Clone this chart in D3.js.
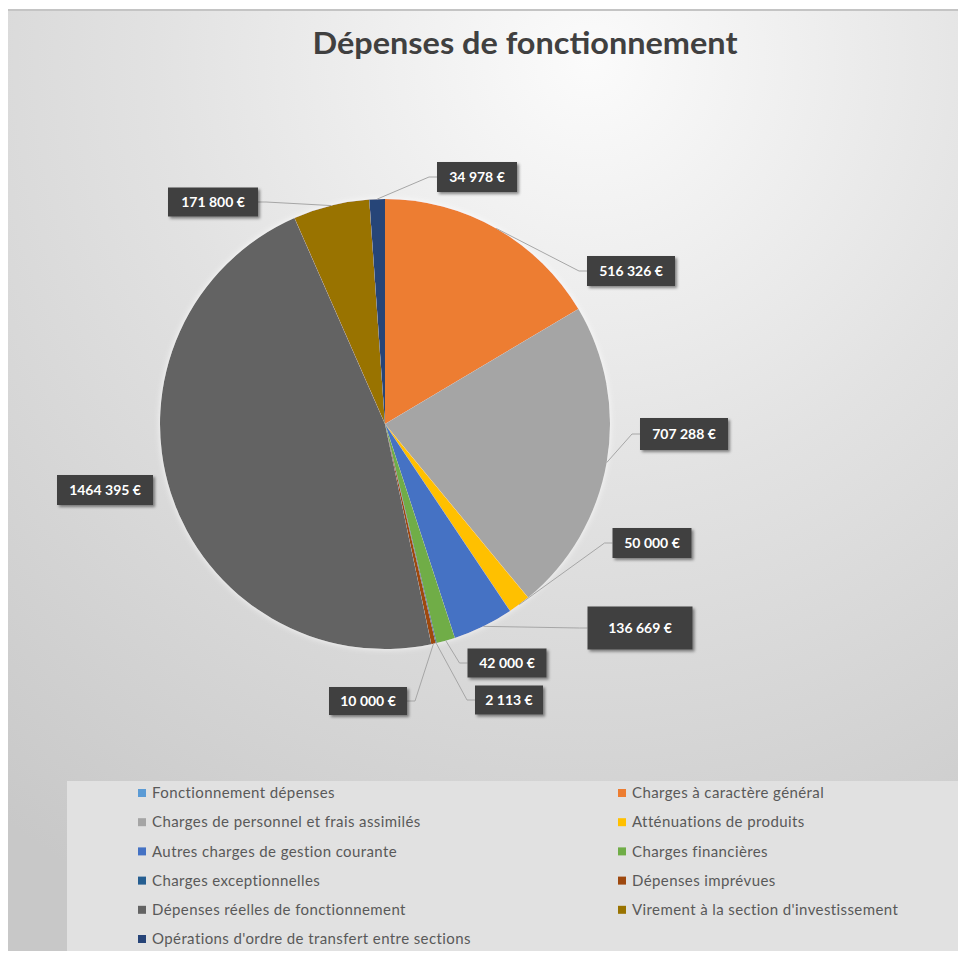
<!DOCTYPE html>
<html>
<head>
<meta charset="utf-8">
<script src="https://cdn.jsdelivr.net/npm/d3@7"></script>
<style>
  html, body { margin: 0; padding: 0; background: #fff; }
  svg { display: block; }
  text { font-family: Lato, "Open Sans", sans-serif; }
</style>
</head>
<body>
<div id="chart"></div>
<script>
const title = "Dépenses de fonctionnement";

const categories = [
  "Fonctionnement dépenses",
  "Charges à caractère général",
  "Charges de personnel et frais assimilés",
  "Atténuations de produits",
  "Autres charges de gestion courante",
  "Charges financières",
  "Charges exceptionnelles",
  "Dépenses imprévues",
  "Dépenses réelles de fonctionnement",
  "Virement à la section d'investissement",
  "Opérations d'ordre de transfert entre sections"
];

const values = [0, 516326, 707288, 50000, 136669, 42000, 2113, 10000, 1464395, 171800, 34978];

const valueLabels = [
  "", "516 326 €", "707 288 €", "50 000 €", "136 669 €", "42 000 €",
  "2 113 €", "10 000 €", "1464 395 €", "171 800 €", "34 978 €"
];

const colors = [
  "#5B9BD5", "#ED7D31", "#A5A5A5", "#FFC000", "#4472C4", "#70AD47",
  "#255E91", "#9E480E", "#636363", "#997300", "#264478"
];

// where Excel put each data label box: offset of its centre from the pie centre, and box size
const labelLayout = [
  null,
  { dx: 246, dy: -153, w: 88, h: 30 },
  { dx: 299, dy: 10, w: 88, h: 32 },
  { dx: 267, dy: 119, w: 79, h: 30 },
  { dx: 255, dy: 204, w: 105, h: 43 },
  { dx: 122, dy: 239, w: 79, h: 29 },
  { dx: 124, dy: 276, w: 68, h: 29 },
  { dx: -17, dy: 277, w: 78, h: 28 },
  { dx: -280, dy: 66, w: 96, h: 30 },
  { dx: -172, dy: -222, w: 90, h: 29 },
  { dx: 92, dy: -247, w: 80, h: 30 }
];

const width = 958;
const height = 957;
const cx = 385, cy = 424, radius = 225;

const svg = d3.select("#chart")
  .append("svg")
  .attr("width", width)
  .attr("height", height);

const defs = svg.append("defs");

const bg = defs.append("radialGradient")
  .attr("id", "bg")
  .attr("gradientUnits", "userSpaceOnUse")
  .attr("cx", 590).attr("cy", 60).attr("r", 960);
bg.append("stop").attr("offset", 0).attr("stop-color", "#fbfbfb");
bg.append("stop").attr("offset", 0.45).attr("stop-color", "#e2e2e2");
bg.append("stop").attr("offset", 1).attr("stop-color", "#c8c8c8");

const shadow = defs.append("filter")
  .attr("id", "shadow")
  .attr("x", "-20%").attr("y", "-30%")
  .attr("width", "150%").attr("height", "170%");
shadow.append("feDropShadow")
  .attr("dx", 2).attr("dy", 2)
  .attr("stdDeviation", 1.5)
  .attr("flood-color", "#000")
  .attr("flood-opacity", 0.45);

const glow = defs.append("filter")
  .attr("id", "glow")
  .attr("x", "-10%").attr("y", "-10%")
  .attr("width", "120%").attr("height", "120%");
glow.append("feDropShadow")
  .attr("dx", 0).attr("dy", 0)
  .attr("stdDeviation", 3)
  .attr("flood-color", "#ffffff")
  .attr("flood-opacity", 0.8);

// chart area
svg.append("rect")
  .attr("x", 8).attr("y", 9)
  .attr("width", width - 8).attr("height", 942)
  .attr("fill", "url(#bg)");
svg.append("line")
  .attr("x1", 8).attr("x2", width)
  .attr("y1", 10).attr("y2", 10)
  .attr("stroke", "#c4c4c4")
  .attr("stroke-width", 2);

svg.append("text")
  .attr("x", 525)
  .attr("y", 54)
  .attr("text-anchor", "middle")
  .attr("font-size", 31)
  .attr("font-weight", "bold")
  .attr("fill", "#404040")
  .attr("textLength", 425)
  .attr("lengthAdjust", "spacingAndGlyphs")
  .text(title);

// pie
const data = categories.map((name, i) => ({
  name,
  value: values[i],
  color: colors[i],
  label: valueLabels[i],
  layout: labelLayout[i]
}));

const pie = d3.pie()
  .value(d => d.value)
  .sort(null)
  .startAngle(0)
  .endAngle(2 * Math.PI);

const arc = d3.arc().innerRadius(0).outerRadius(radius);

const arcs = pie(data);

const g = svg.append("g").attr("transform", `translate(${cx},${cy})`);

g.append("g")
  .attr("filter", "url(#glow)")
  .selectAll("path")
  .data(arcs.filter(d => d.data.value > 0))
  .join("path")
  .attr("d", arc)
  .attr("fill", d => d.data.color);

// leader lines + labels
const labelled = arcs.filter(d => d.data.value > 0 && d.data.layout);

const leaders = labelled.map(d => {
  const a = (d.startAngle + d.endAngle) / 2;
  const sx = radius * Math.sin(a);
  const sy = -radius * Math.cos(a);
  const L = d.data.layout;
  const right = L.dx > sx;
  const ex = right ? L.dx - L.w / 2 : L.dx + L.w / 2;
  const ey = L.dy;
  const kx = right ? ex - 8 : ex + 8;
  const dist = Math.hypot(kx - sx, ey - sy);
  return { points: [[sx, sy], [kx, ey], [ex, ey]], show: dist > 20 };
});

g.append("g")
  .selectAll("polyline")
  .data(leaders.filter(l => l.show))
  .join("polyline")
  .attr("points", l => l.points.map(p => p.join(",")).join(" "))
  .attr("fill", "none")
  .attr("stroke", "#a6a6a6")
  .attr("stroke-width", 1);

const label = g.append("g")
  .selectAll("g")
  .data(labelled)
  .join("g")
  .attr("transform", d => `translate(${d.data.layout.dx},${d.data.layout.dy})`);

label.append("rect")
  .attr("x", d => -d.data.layout.w / 2)
  .attr("y", d => -d.data.layout.h / 2)
  .attr("width", d => d.data.layout.w)
  .attr("height", d => d.data.layout.h)
  .attr("fill", "#404040")
  .attr("filter", "url(#shadow)");

label.append("text")
  .attr("text-anchor", "middle")
  .attr("dy", "0.36em")
  .attr("font-size", 14)
  .attr("font-weight", "bold")
  .attr("fill", "#fff")
  .text(d => d.data.label);

// legend
svg.append("rect")
  .attr("x", 67).attr("y", 781)
  .attr("width", width - 67).attr("height", 170)
  .attr("fill", "#e1e1e1");

const legendX = [138, 618];
const legendY0 = 793, legendStep = 29.2;

const item = svg.append("g")
  .selectAll("g")
  .data(data)
  .join("g")
  .attr("transform", (d, i) =>
    `translate(${legendX[i % 2]},${legendY0 + Math.floor(i / 2) * legendStep})`);

item.append("rect")
  .attr("x", 0).attr("y", -4)
  .attr("width", 8).attr("height", 8)
  .attr("fill", d => d.color);

item.append("text")
  .attr("x", 14)
  .attr("dy", "0.35em")
  .attr("font-size", 15)
  .attr("letter-spacing", 0.4)
  .attr("fill", "#595959")
  .text(d => d.name);
</script>
</body>
</html>
